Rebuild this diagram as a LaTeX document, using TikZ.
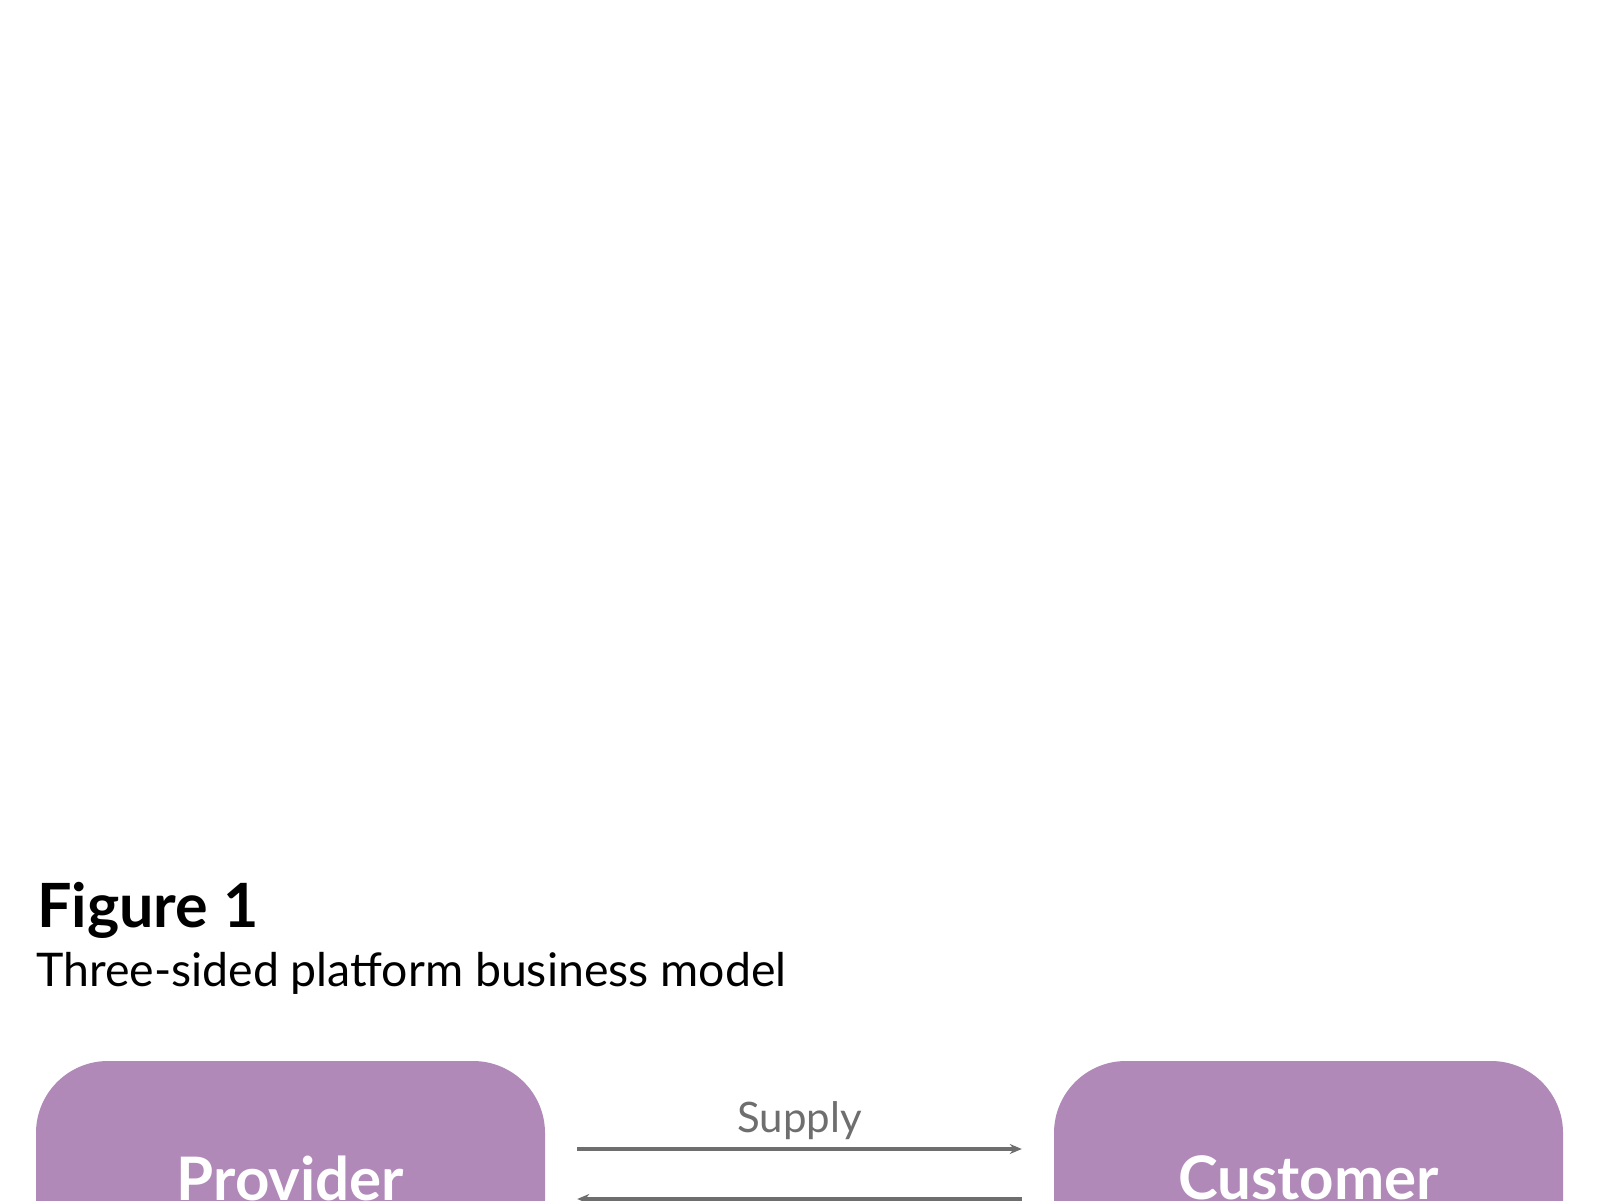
\documentclass[tikz,border=0pt]{standalone}
\usepackage{fontspec}
\setmainfont{Lato}
\usetikzlibrary{arrows.meta,calc}
\definecolor{boxpurple}{HTML}{B189B9}
\definecolor{arrowgray}{HTML}{6E6E6E}
\begin{document}
\begin{tikzpicture}[x=1pt,y=1pt,
  partybox/.style={fill=boxpurple,draw=none,rounded corners=72pt,minimum width=509pt,minimum height=234pt,inner sep=0pt,text=white,font=\fontsize{60}{60}\selectfont\bfseries},
  flow/.style={draw=arrowgray,line width=3.2pt,-{Stealth[length=12pt,width=10pt]}},
  flowlabel/.style={text=arrowgray,font=\fontsize{42}{42}\selectfont,inner sep=0pt,anchor=base}
]
\useasboundingbox (0,0) rectangle (1600,1200);
\clip (0,0) rectangle (1600,1200);
\fill[white] (0,0) rectangle (1600,1200);
\node[anchor=base west,inner sep=0pt,font=\fontsize{61}{61}\selectfont\bfseries] (fig) at (37,273) {Figure 1};
\node[anchor=base west,inner sep=0pt,font=\fontsize{46.4}{46.4}\selectfont] (sub) at (36,214) {Three-sided platform business model};
\node[partybox] (prov) at (290.5,22) {Provider};
\node[partybox] (cust) at (1308.5,22) {Customer};
\coordinate (s1) at ($(prov.east)+(32,29)$);
\coordinate (e1) at ($(cust.west)+(-32,29)$);
\coordinate (s2) at ($(cust.west)+(-32,-21)$);
\coordinate (e2) at ($(prov.east)+(32,-21)$);
\draw[flow] (s1) -- (e1);
\draw[flow] (s2) -- (e2);
\node[flowlabel] (supply) at ($(s1)!0.5!(e1)+(0,17)$) {Supply};
\end{tikzpicture}
\end{document}
